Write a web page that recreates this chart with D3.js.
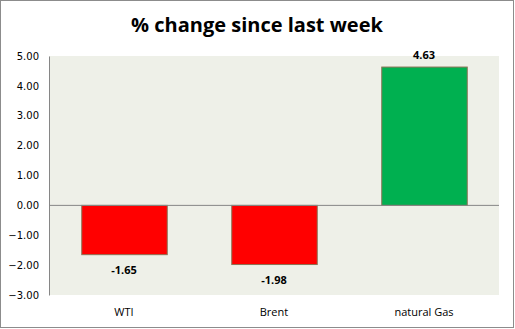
<!DOCTYPE html>
<html><head><meta charset="utf-8">
<script src="https://cdn.jsdelivr.net/npm/d3@7"></script>
<style>body{margin:0;background:#fff}svg{display:block}</style>
</head><body>
<script>
const categories = ["WTI", "Brent", "natural Gas"];
const values = [-1.65, -1.98, 4.63];
const labels = ["-1.65", "-1.98", "4.63"];
const tickValues = [-3, -2, -1, 0, 1, 2, 3, 4, 5];
const colors = ["#FF0000", "#FF0000", "#00B050"];

const W = 515, H = 329;
const svg = d3.select("body").append("svg").attr("width", W).attr("height", H);
svg.append("rect").attr("x", 0.5).attr("y", 0.5).attr("width", W - 2).attr("height", H - 2)
  .attr("fill", "#fff").attr("stroke", "#8c8c8c").attr("stroke-width", 1);

const pl = 49, pr = 499, pt = 56, pb = 295;
const x = d3.scaleBand().domain(categories).range([pl, pr]).paddingInner(0.43).paddingOuter(0.215);
const y = d3.scaleLinear().domain([-3, 5]).range([pb, pt]);

svg.append("rect").attr("x", pl).attr("y", pt).attr("width", pr - pl).attr("height", pb - pt).attr("fill", "#EEF0E8");

svg.append("text").attr("x", 257).attr("y", 32).attr("text-anchor", "middle")
  .attr("font-family", "Open Sans, sans-serif").attr("font-weight", "bold").attr("font-size", 20)
  .attr("fill", "#000").text("% change since last week");

const yAxis = svg.append("g").attr("transform", `translate(${pl},0)`)
  .call(d3.axisLeft(y).tickValues(tickValues).tickFormat(d3.format(".2f")).tickSize(0).tickPadding(10));
yAxis.select(".domain").attr("stroke", "#868686");
yAxis.selectAll("text").attr("font-family", "DejaVu Sans, sans-serif").attr("font-size", 10).attr("fill", "#000");

svg.selectAll("rect.bar").data(values).join("rect").attr("class", "bar")
  .attr("x", (d, i) => x(categories[i]) + 0.5)
  .attr("y", d => y(Math.max(0, d)))
  .attr("width", x.bandwidth())
  .attr("height", d => Math.abs(y(d) - y(0)))
  .attr("fill", (d, i) => colors[i])
  .attr("stroke", "#8B7355").attr("stroke-width", 1);

svg.append("line").attr("x1", pl).attr("x2", pr).attr("y1", y(0)).attr("y2", y(0))
  .attr("stroke", "#868686").attr("stroke-width", 1);

svg.selectAll("text.val").data(values).join("text").attr("class", "val")
  .attr("x", (d, i) => x(categories[i]) + x.bandwidth() / 2)
  .attr("y", d => d >= 0 ? y(d) - 8 : y(d) + 19)
  .attr("text-anchor", "middle").attr("font-family", "Open Sans, sans-serif")
  .attr("font-weight", "bold").attr("font-size", 11).attr("fill", "#000")
  .text((d, i) => labels[i]);

svg.selectAll("text.cat").data(categories).join("text").attr("class", "cat")
  .attr("x", d => x(d) + x.bandwidth() / 2).attr("y", 316)
  .attr("text-anchor", "middle").attr("font-family", "Open Sans, sans-serif")
  .attr("font-size", 11).attr("fill", "#000").text(d => d);
</script>
</body></html>
